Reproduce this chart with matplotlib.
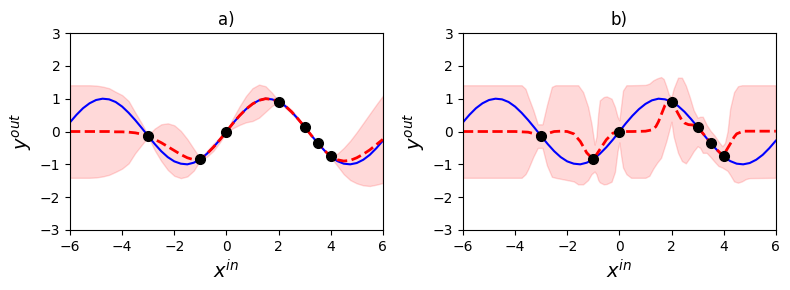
import numpy as np
import matplotlib
matplotlib.use("Agg")
import matplotlib.pyplot as plt

# training points
x_train = [-3, -1, 0, 2, 3, 3.5, 4]
y_train = [-0.14, -0.84, 0.0, 0.91, 0.14, -0.35, -0.76]

# true function
x_grid = [-6, -5.75, -5.5, -5.25, -5, -4.75, -4.5, -4.25, -4, -3.75, -3.5, -3.25,
          -3, -2.75, -2.5, -2.25, -2, -1.75, -1.5, -1.25, -1, -0.75, -0.5, -0.25,
          0, 0.25, 0.5, 0.75, 1, 1.25, 1.5, 1.75, 2, 2.25, 2.5, 2.75, 3, 3.25,
          3.5, 3.75, 4, 4.25, 4.5, 4.75, 5, 5.25, 5.5, 5.75, 6]
y_true = [0.28, 0.51, 0.71, 0.86, 0.96, 1.0, 0.98, 0.9, 0.76, 0.57, 0.35, 0.11,
          -0.14, -0.38, -0.6, -0.78, -0.91, -0.98, -1.0, -0.95, -0.84, -0.68, -0.48, -0.25,
          0.0, 0.25, 0.48, 0.68, 0.84, 0.95, 1.0, 0.98, 0.91, 0.78, 0.6, 0.38, 0.14, -0.11,
          -0.35, -0.57, -0.76, -0.9, -0.98, -1.0, -0.96, -0.86, -0.71, -0.51, -0.28]

# panel a) posterior mean and band (same grid)
mean_a = [0, 0, 0, 0, 0, 0, 0, -0.01, -0.01, -0.02, -0.04, -0.08,
          -0.14, -0.24, -0.34, -0.46, -0.58, -0.70, -0.80, -0.86, -0.85, -0.68, -0.48, -0.25,
          0.0, 0.25, 0.48, 0.68, 0.84, 0.95, 1.0, 0.98, 0.91, 0.78, 0.6, 0.38, 0.14, -0.11,
          -0.35, -0.57, -0.76, -0.86, -0.9, -0.88, -0.8, -0.69, -0.56, -0.4, -0.24]
upper_a = [1.41, 1.41, 1.41, 1.41, 1.40, 1.37, 1.32, 1.21, 1.11, 0.93, 0.58, 0.25,
           -0.12, 0.09, 0.22, 0.25, 0.19, 0.02, -0.23, -0.53, -0.83, -0.59, -0.37, -0.17,
           0.02, 0.40, 0.76, 1.08, 1.32, 1.43, 1.38, 1.18, 0.93, 0.83, 0.66, 0.42, 0.16, -0.10,
           -0.33, -0.55, -0.74, -0.68, -0.50, -0.28, -0.02, 0.26, 0.54, 0.82, 1.09]
lower_a = [-1.41, -1.41, -1.41, -1.41, -1.40, -1.37, -1.32, -1.23, -1.13, -0.97, -0.66, -0.41,
           -0.16, -0.57, -0.90, -1.17, -1.35, -1.42, -1.37, -1.19, -0.87, -0.77, -0.59, -0.33,
           -0.02, 0.10, 0.20, 0.28, 0.32, 0.42, 0.60, 0.78, 0.89, 0.73, 0.54, 0.34, 0.12, -0.12,
           -0.37, -0.59, -0.78, -1.04, -1.30, -1.48, -1.58, -1.64, -1.66, -1.62, -1.57]

# panel b) posterior mean
xb_mean = [-6, -4, -3.75, -3.5, -3.25, -3, -2.75, -2.5, -2.25, -2, -1.75, -1.5,
           -1.25, -1, -0.75, -0.5, -0.25, 0, 0.5, 1, 1.25, 1.4, 1.5, 1.6, 1.75,
           1.9, 2, 2.15, 2.25, 2.4, 2.5, 2.65, 2.8, 3, 3.25, 3.5, 3.75, 4, 4.1,
           4.25, 4.4, 4.5, 4.75, 5, 6]
yb_mean = [0, 0, -0.01, -0.02, -0.07, -0.14, -0.06, 0.0, 0.01, 0.0, -0.07, -0.3,
           -0.65, -0.85, -0.55, -0.25, -0.05, 0.0, 0.0, 0.01, 0.05, 0.15, 0.3, 0.5, 0.8,
           0.95, 0.91, 0.7, 0.55, 0.34, 0.26, 0.21, 0.2, 0.14, -0.1, -0.35, -0.56, -0.76, -0.58,
           -0.38, -0.17, -0.07, 0.01, 0.01, 0.01]

# panel b) band
xb_band = [-6, -3.75, -3.6, -3.5, -3.3, -3.13, -2.95, -2.78, -2.59, -2.45, -1.75, -1.58,
           -1.39, -1.2, -1.07, -0.95, -0.88, -0.81, -0.75, -0.6, -0.49, -0.3, -0.17, -0.07,
           0.0, 0.07, 0.14, 0.27, 0.45, 1.0, 1.15, 1.3, 1.45, 1.6, 1.7, 1.8,
           1.9, 2.0, 2.08, 2.25, 2.4, 2.55, 2.7, 2.85, 3.0, 3.1, 3.2, 3.35,
           3.5, 3.65, 3.8, 3.95, 4.05, 4.15, 4.25, 4.4, 4.55, 4.7, 4.85, 5.0, 6.0]
upper_b = [1.41, 1.41, 1.3, 1.07, 0.65, 0.22, 0.22, 0.8, 1.36, 1.41, 1.41, 1.41,
           1.2, 0.75, 0.24, -0.4, -0.16, 0.55, 0.95, 1.05, 1.07, 1.0, 0.75, 0.45,
           0.34, 0.8, 1.25, 1.41, 1.41, 1.42, 1.46, 1.56, 1.62, 1.66, 1.6, 1.38,
           1.12, 1.05, 1.3, 1.64, 1.64, 1.4, 1.05, 0.65, 0.42, 0.45, 0.45, 0.2,
           0.02, -0.12, -0.3, -0.45, -0.35, 0.0, 0.7, 1.2, 1.38, 1.41, 1.41, 1.41, 1.41]
lower_b = [-1.41, -1.41, -1.3, -1.15, -0.77, -0.5, -0.5, -1.03, -1.38, -1.41, -1.52, -1.61,
           -1.61, -1.48, -1.3, -1.22, -1.3, -1.48, -1.55, -1.61, -1.6, -1.53, -1.23, -0.6,
           -0.33, -0.75, -1.1, -1.3, -1.41, -1.41, -1.35, -1.13, -0.95, -0.8, -0.55, -0.3,
           0.0, 0.3, -0.15, -0.65, -0.9, -0.97, -0.8, -0.6, -0.45, -0.5, -0.65, -0.65,
           -0.78, -0.92, -1.05, -1.1, -1.15, -1.2, -1.32, -1.52, -1.56, -1.52, -1.45, -1.42, -1.41]

fig = plt.figure(figsize=(7.9, 2.9), dpi=100)
ax_a = fig.add_axes([0.0886, 0.207, 0.396, 0.679])
ax_b = fig.add_axes([0.586, 0.207, 0.396, 0.679])

panels = [
    (ax_a, "a)", x_grid, lower_a, upper_a, x_grid, mean_a),
    (ax_b, "b)", xb_band, lower_b, upper_b, xb_mean, yb_mean),
]

for ax, title, xf, lo, hi, xm, ym in panels:
    ax.fill_between(xf, lo, hi, color="r", alpha=0.15)
    ax.plot(x_grid, y_true, "b-", linewidth=1.5)
    ax.plot(xm, ym, "r--", linewidth=2)
    ax.plot(x_train, y_train, "ko", markersize=7)
    ax.set_xlim(-6, 6)
    ax.set_ylim(-3, 3)
    ax.set_xticks([-6, -4, -2, 0, 2, 4, 6])
    ax.set_yticks([-3, -2, -1, 0, 1, 2, 3])
    ax.set_title(title, fontsize=12)
    ax.set_xlabel("$x^{in}$", fontsize=14)
    ax.set_ylabel("$y^{out}$", fontsize=14)

fig.savefig("out.png", dpi=100)
